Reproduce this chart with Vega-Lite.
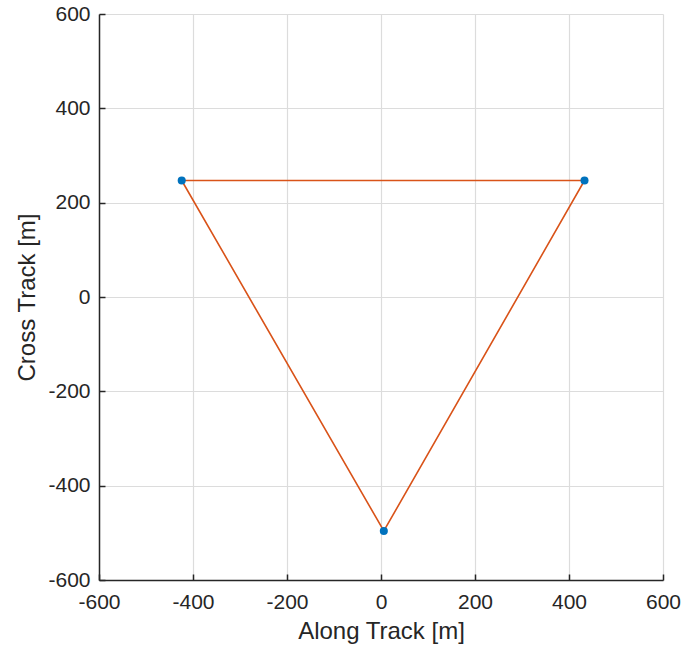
{
  "$schema": "https://vega.github.io/schema/vega-lite/v6.json",
  "width": 564,
  "height": 566,
  "autosize": {"type": "none"},
  "padding": {"left": 99, "top": 14, "right": 22, "bottom": 72},
  "background": "white",
  "config": {
    "view": {"stroke": null},
    "font": "Liberation Sans",
    "axis": {
      "domainColor": "#262626",
      "domainWidth": 1.5,
      "tickColor": "#262626",
      "tickSize": -6,
      "tickWidth": 1.5,
      "gridColor": "#dcdcdc",
      "gridWidth": 1.2,
      "labelFont": "Liberation Sans",
      "labelFontSize": 21,
      "labelColor": "#262626",
      "labelFlush": false,
      "labelOverlap": false,
      "labelExpr": "'' + datum.value",
      "titleFont": "Liberation Sans",
      "titleFontSize": 24,
      "titleFontWeight": "normal",
      "titleColor": "#262626"
    }
  },
  "data": {
    "values": [
      {"x": -424, "y": 247, "order": 1},
      {"x": 433, "y": 247, "order": 2},
      {"x": 6, "y": -496, "order": 3},
      {"x": -424, "y": 247, "order": 4}
    ]
  },
  "layer": [
    {
      "mark": {"type": "line", "color": "#D95319", "strokeWidth": 1.6},
      "encoding": {
        "x": {"field": "x", "type": "quantitative", "scale": {"domain": [-600, 600], "nice": false}, "axis": {"values": [-600, -400, -200, 0, 200, 400, 600], "title": "Along Track [m]", "labelPadding": 17, "titlePadding": 7}},
        "y": {"field": "y", "type": "quantitative", "scale": {"domain": [-600, 600], "nice": false}, "axis": {"values": [-600, -400, -200, 0, 200, 400, 600], "title": "Cross Track [m]", "labelPadding": 15, "titlePadding": 8}},
        "order": {"field": "order"}
      }
    },
    {
      "transform": [{"filter": "datum.order < 4"}],
      "mark": {"type": "point", "filled": true, "color": "#0072BD", "size": 65, "opacity": 1},
      "encoding": {
        "x": {"field": "x", "type": "quantitative"},
        "y": {"field": "y", "type": "quantitative"}
      }
    }
  ]
}
